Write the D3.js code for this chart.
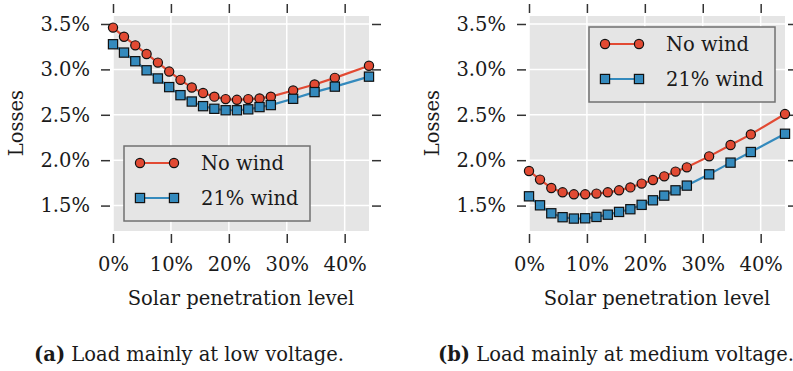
<!DOCTYPE html>
<html lang="en">
<head>
<meta charset="UTF-8">
<title>Losses vs solar penetration</title>
<script src="https://d3js.org/d3.v7.min.js"></script>
<style>
    body { margin: 0; background: #fff; }
    svg text { font-family: "DejaVu Serif", serif; fill: #1a1a1a; }
    .tick line { stroke: #333; stroke-width: 1.5px; }
    .domain { display: none; }
</style>
</head>
<body>
<div id="chart"></div>
<script>
// solar penetration level (%) at each simulated point
var solar = [0, 1.9, 3.85, 5.8, 7.75, 9.7, 11.65, 13.6, 15.55, 17.5, 19.45, 21.4, 23.35, 25.3, 27.25, 31.1, 34.8, 38.3, 44.2];

// (a) load mainly at low voltage, losses in %
var lowNoWind = [3.46, 3.36, 3.265, 3.17, 3.075, 2.976, 2.885, 2.80, 2.74, 2.70, 2.673, 2.665, 2.673, 2.68, 2.70, 2.767, 2.833, 2.907, 3.04];
var lowWind   = [3.277, 3.185, 3.09, 2.99, 2.90, 2.805, 2.716, 2.646, 2.595, 2.566, 2.55, 2.55, 2.56, 2.585, 2.607, 2.676, 2.75, 2.81, 2.92];

// (b) load mainly at medium voltage, losses in %
var medNoWind = [1.881, 1.786, 1.694, 1.646, 1.624, 1.624, 1.632, 1.646, 1.668, 1.70, 1.742, 1.782, 1.822, 1.874, 1.921, 2.042, 2.167, 2.284, 2.508];
var medWind   = [1.602, 1.503, 1.415, 1.372, 1.357, 1.36, 1.375, 1.40, 1.43, 1.46, 1.508, 1.558, 1.61, 1.668, 1.72, 1.844, 1.973, 2.09, 2.291];

var xTicks = [0, 10, 20, 30, 40];
var yTicks = [1.5, 2.0, 2.5, 3.0, 3.5];
var seriesNames = ["No wind", "21% wind"];
var captions = [["(a)", " Load mainly at low voltage."], ["(b)", " Load mainly at medium voltage."]];

var red = "#E24A33", blue = "#348ABD";

var svg = d3.select("#chart").append("svg")
    .attr("width", 793)
    .attr("height", 371);

function drawPanel(left, series, caption, legendPos, captionX) {
    var top = 16, w = 256, h = 215;
    var g = svg.append("g").attr("transform", "translate(" + left + "," + top + ")");

    var x = d3.scaleLinear().domain([0, 44.2]).range([0, w]);
    var y = d3.scaleLinear().domain([1.22, 3.588]).range([h, 0]);

    g.append("rect").attr("width", w).attr("height", h).attr("fill", "#E5E5E5");

    // white grid
    g.selectAll(".gx").data(xTicks).enter().append("line")
        .attr("x1", d => x(d)).attr("x2", d => x(d))
        .attr("y1", 0).attr("y2", h)
        .attr("stroke", "#fff").attr("stroke-width", 1.5);
    g.selectAll(".gy").data(yTicks).enter().append("line")
        .attr("y1", d => y(d)).attr("y2", d => y(d))
        .attr("x1", 0).attr("x2", w)
        .attr("stroke", "#fff").attr("stroke-width", 1.5);

    // ticks, offset a little from the plot area
    g.append("g").attr("transform", "translate(0," + (h + 3) + ")")
        .call(d3.axisBottom(x).tickValues(xTicks).tickSize(9).tickPadding(14)
            .tickFormat(d => d + "%"))
        .selectAll("text").style("font-size", "19.5px");
    g.append("g").attr("transform", "translate(0,-3)")
        .call(d3.axisTop(x).tickValues(xTicks).tickSize(9).tickFormat(""));
    g.append("g").attr("transform", "translate(-3,0)")
        .call(d3.axisLeft(y).tickValues(yTicks).tickSize(9).tickPadding(11)
            .tickFormat(d => d.toFixed(1) + "%"))
        .selectAll("text").style("font-size", "19.5px");
    g.append("g").attr("transform", "translate(" + (w + 3) + ",0)")
        .call(d3.axisRight(y).tickValues(yTicks).tickSize(9).tickFormat(""));

    var line = d3.line().x((d, i) => x(solar[i])).y(d => y(d));
    var colors = [red, blue];

    series.forEach(function (vals, k) {
        g.append("path").datum(vals)
            .attr("fill", "none").attr("stroke", colors[k]).attr("stroke-width", 2.2)
            .attr("d", line);
    });
    // markers drawn after both lines
    g.selectAll(".c").data(series[0]).enter().append("circle")
        .attr("cx", (d, i) => x(solar[i])).attr("cy", d => y(d)).attr("r", 4.6)
        .attr("fill", red).attr("stroke", "#111").attr("stroke-width", 1.2);
    g.selectAll(".s").data(series[1]).enter().append("rect")
        .attr("x", (d, i) => x(solar[i]) - 4.6).attr("y", d => y(d) - 4.6)
        .attr("width", 9.2).attr("height", 9.2)
        .attr("fill", blue).attr("stroke", "#111").attr("stroke-width", 1.2);

    // legend
    var lg = g.append("g").attr("transform", "translate(" + legendPos[0] + "," + legendPos[1] + ")");
    lg.append("rect").attr("width", 186).attr("height", 75)
        .attr("fill", "#E5E5E5").attr("stroke", "#707070").attr("stroke-width", 1.5);
    seriesNames.forEach(function (name, k) {
        var ry = 17 + k * 35;
        lg.append("line").attr("x1", 16).attr("x2", 50).attr("y1", ry).attr("y2", ry)
            .attr("stroke", colors[k]).attr("stroke-width", 2.2);
        [16, 50].forEach(function (mx) {
            if (k === 0) {
                lg.append("circle").attr("cx", mx).attr("cy", ry).attr("r", 4.6)
                    .attr("fill", red).attr("stroke", "#111").attr("stroke-width", 1.2);
            } else {
                lg.append("rect").attr("x", mx - 4.6).attr("y", ry - 4.6)
                    .attr("width", 9.2).attr("height", 9.2)
                    .attr("fill", blue).attr("stroke", "#111").attr("stroke-width", 1.2);
            }
        });
        lg.append("text").attr("x", 77).attr("y", ry).attr("dy", "0.35em")
            .style("font-size", "19.5px").text(name);
    });

    // axis titles
    g.append("text").attr("x", w / 2).attr("y", 305 - top)
        .attr("text-anchor", "middle").style("font-size", "19.5px")
        .text("Solar penetration level");
    g.append("text").attr("transform", "translate(-90," + (123 - top) + ") rotate(-90)")
        .attr("text-anchor", "middle").style("font-size", "19.5px")
        .text("Losses");

    // caption
    var cap = svg.append("text").attr("x", captionX).attr("y", 361)
        .attr("text-anchor", "middle").style("font-size", "19.5px");
    cap.append("tspan").style("font-weight", "bold").text(caption[0]);
    cap.append("tspan").text(caption[1]);
}

drawPanel(113, [lowNoWind, lowWind], captions[0], [11, 130], 189);
drawPanel(529, [medNoWind, medWind], captions[1], [60, 11], 616);
</script>
</body>
</html>
